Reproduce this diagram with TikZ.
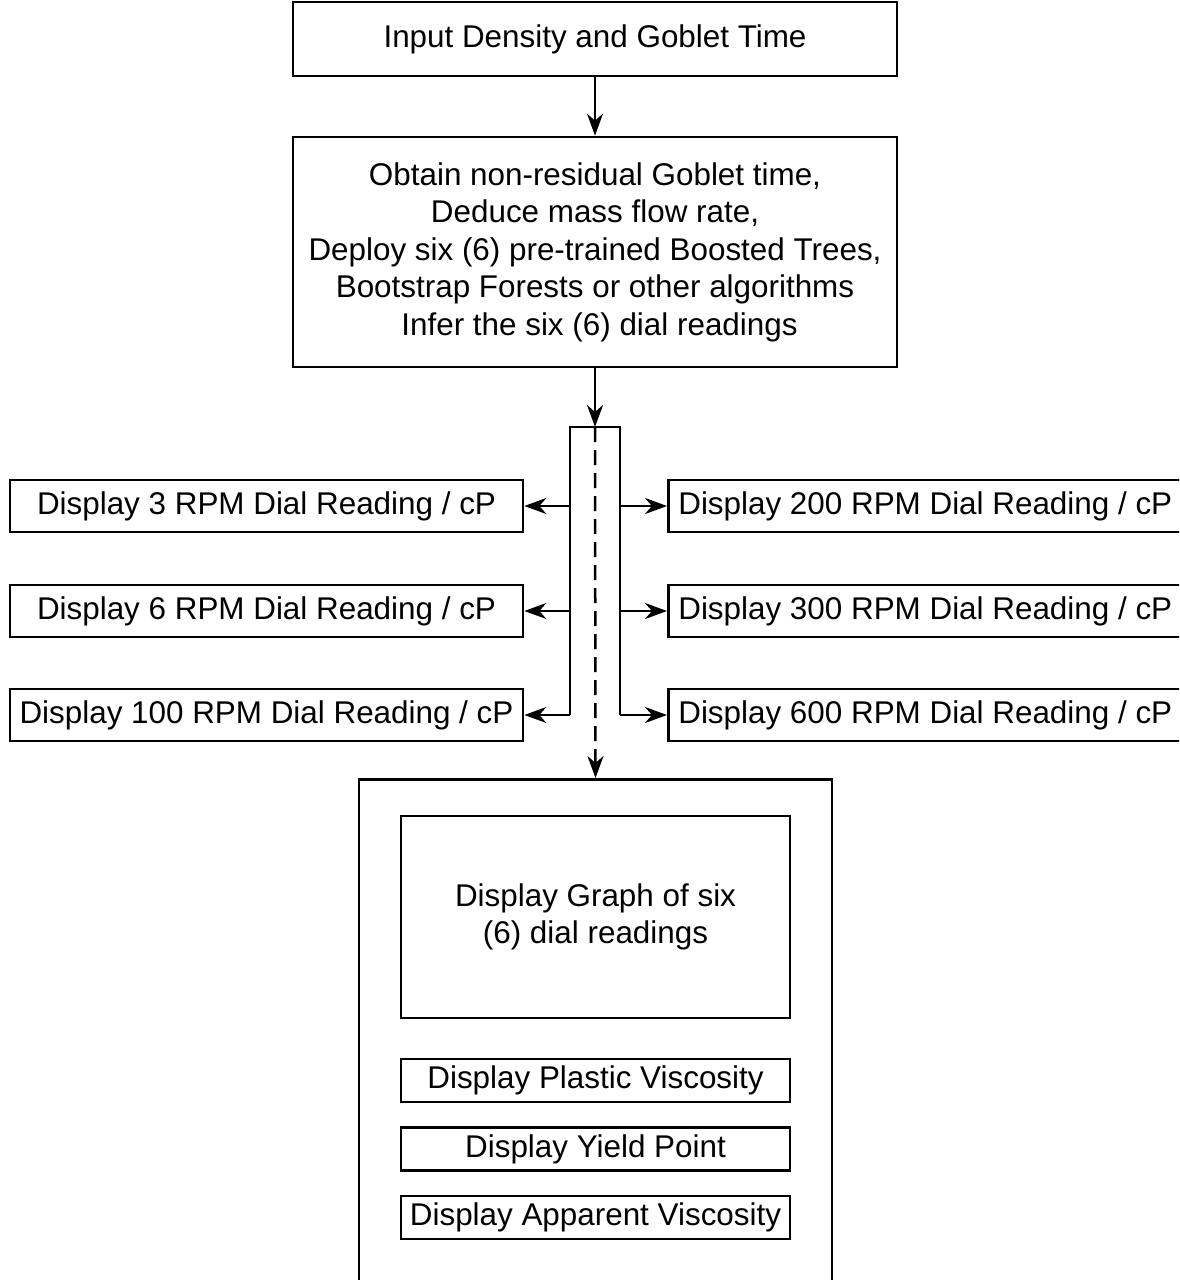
\documentclass[tikz,border=0pt]{standalone}
\usepackage{fontspec}
\setmainfont{Liberation Sans}
\usetikzlibrary{arrows.meta}
\begin{document}
\begin{tikzpicture}[x=1pt,y=-1pt,
  box/.style={draw, line width=2.7pt, rectangle, inner sep=0pt, align=center,
    font=\fontsize{31.4}{37.5}\selectfont},
  rbox/.style={box, anchor=west, minimum width=530pt, minimum height=52pt,
    text width=510pt, align=flush left, inner xsep=10pt},
  lbox/.style={box, minimum width=513pt, minimum height=52pt},
  sbox/.style={box, minimum width=389pt, minimum height=43pt},
  arr/.style={line width=2.5pt, -{Stealth[length=22pt,width=16pt,inset=7pt]}},
  dashedarr/.style={arr, dash pattern=on 15pt off 8pt},
]
\clip (0,0) rectangle (1179,1280);
\fill[white] (0,0) rectangle (1179,1280);

\node[box, minimum width=604pt, minimum height=74pt] (input) at (595,39) {Input Density and Goblet Time};
\node[box, minimum width=604pt, minimum height=230pt] (obtain) at (595,252)
  {Obtain non-residual Goblet time,\\Deduce mass flow rate,\\Deploy six (6) pre-trained Boosted Trees,\\Bootstrap Forests or other algorithms\\\hspace*{9pt}Infer the six (6) dial readings};
\draw[arr] (input) -- (obtain);

\coordinate (bartop) at (595,427);
\coordinate (bl) at (570,427);
\coordinate (br) at (620,427);
\coordinate (blb) at (570,715);
\coordinate (brb) at (620,715);
\draw[arr] (obtain) -- (bartop);
\draw[line width=2.5pt] (blb) -- (bl) -- (br) -- (brb);

\node[lbox] (l3) at (266.5,506) {Display 3 RPM Dial Reading / cP};
\node[lbox] (l6) at (266.5,611) {Display 6 RPM Dial Reading / cP};
\node[lbox] (l100) at (266.5,715) {Display 100 RPM Dial Reading / cP};
\node[rbox] (r200) at (667,506) {Display 200 RPM Dial Reading / cP};
\node[rbox] (r300) at (667,611) {Display 300 RPM Dial Reading / cP};
\node[rbox] (r600) at (667,715) {Display 600 RPM Dial Reading / cP};

\draw[arr] (bl |- l3.east) -- (l3.east);
\draw[arr] (bl |- l6.east) -- (l6.east);
\draw[arr] (blb) -- (l100.east);
\draw[arr] (br |- r200.west) -- (r200.west);
\draw[arr] (br |- r300.west) -- (r300.west);
\draw[arr] (brb) -- (r600.west);

\node[draw, line width=2.7pt, minimum width=473pt, minimum height=560pt, anchor=north] (disp) at (595.5,778) {};
\draw[dashedarr] (bartop) -- (disp.north);

\node[box, minimum width=389pt, minimum height=202pt] (graph) at (595.5,917) {Display Graph of six\\(6) dial readings};
\node[sbox] (pv) at (595.5,1080.5) {Display Plastic Viscosity};
\node[sbox] (yp) at (595.5,1149) {Display Yield Point};
\node[sbox] (av) at (595.5,1217.5) {Display Apparent Viscosity};
\end{tikzpicture}
\end{document}
